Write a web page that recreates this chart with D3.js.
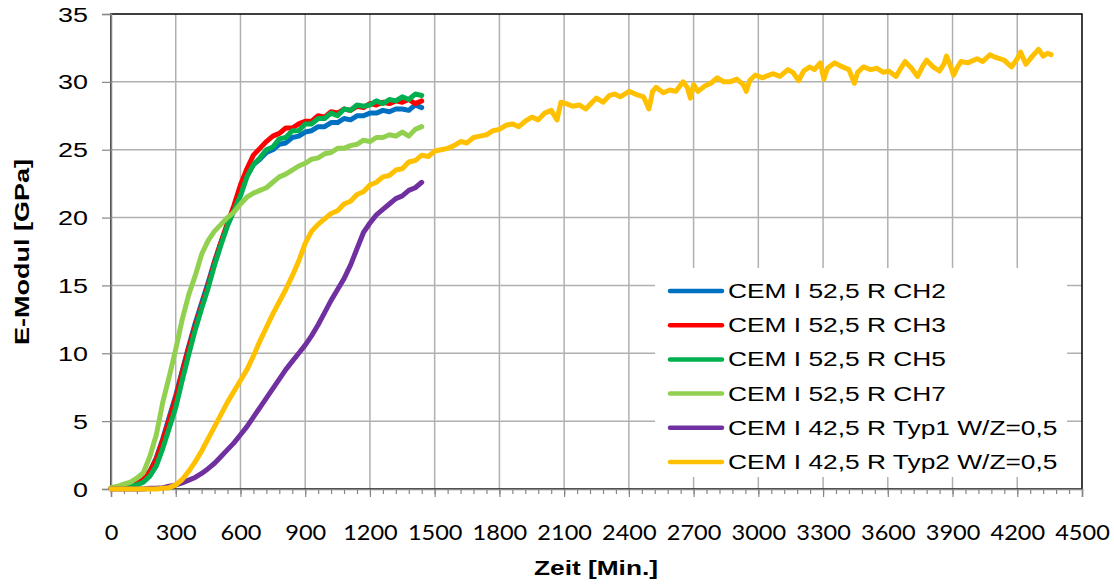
<!DOCTYPE html>
<html><head><meta charset="utf-8">
<script src="https://cdn.jsdelivr.net/npm/d3@7"></script>
<style>body{margin:0;background:#fff}svg{display:block}</style>
</head><body><svg id="c" width="1114" height="584"></svg>
<script>
const xTicks = [0,300,600,900,1200,1500,1800,2100,2400,2700,3000,3300,3600,3900,4200,4500];
const yTicks = [0,5,10,15,20,25,30,35];
const seriesNames = ["CEM I 52,5 R CH2","CEM I 52,5 R CH3","CEM I 52,5 R CH5","CEM I 52,5 R CH7","CEM I 42,5 R Typ1 W/Z=0,5","CEM I 42,5 R Typ2 W/Z=0,5"];
const seriesColors = ["#0070C0","#FF0000","#00B050","#92D050","#7030A0","#FFC000"];

const minutes = [0,30,60,90,120,150,180,210,240,270,300,330,360,390,420,450,480,510,540,570,600,630,660,690,720,750,780,810,840,870,900,930,960,990,1020,1050,1080,1110,1140,1170,1200,1230,1260,1290,1320,1350,1380,1410,1440];
const ch2 = [0.05,0.1,0.15,0.25,0.4,0.7,1.3,2.3,3.7,5.3,6.9,8.7,10.5,12.2,13.7,15.2,16.8,18.2,19.5,20.7,21.9,23.1,23.9,24.3,24.8,25.0,25.4,25.5,25.9,26.0,26.3,26.4,26.7,26.7,27.0,27.0,27.3,27.2,27.5,27.5,27.7,27.7,27.9,27.8,28.0,28.0,27.9,28.3,28.1];
const ch3 = [0.05,0.1,0.15,0.25,0.4,0.7,1.3,2.2,3.6,5.1,6.7,8.6,10.4,12.0,13.5,15.0,16.7,18.2,19.6,20.9,22.4,23.6,24.6,25.1,25.6,26.0,26.2,26.6,26.6,26.9,27.1,27.1,27.5,27.4,27.8,27.7,28.0,27.9,28.2,28.1,28.4,28.3,28.5,28.4,28.6,28.5,28.7,28.4,28.6];
const ch5 = [0.05,0.1,0.15,0.2,0.3,0.5,0.95,1.7,3.0,4.5,6.0,8.0,9.9,11.7,13.3,14.8,16.5,18.0,19.4,20.5,21.6,23.0,23.9,24.4,25.0,25.2,25.8,25.9,26.4,26.4,26.9,26.9,27.3,27.3,27.7,27.5,28.0,27.9,28.3,28.2,28.3,28.6,28.4,28.7,28.6,28.9,28.7,29.1,29.0];
const ch7 = [0.1,0.2,0.35,0.5,0.8,1.2,2.4,4.0,6.4,8.3,10.3,12.5,14.3,15.7,17.3,18.3,19.0,19.5,20.0,20.4,21.0,21.5,21.8,22.0,22.2,22.6,23.0,23.2,23.5,23.8,24.0,24.3,24.4,24.7,24.8,25.1,25.1,25.3,25.4,25.7,25.6,25.9,25.9,26.1,26.0,26.3,26.0,26.5,26.7];
const typ1 = [0,0,0,0,0,0,0.05,0.05,0.1,0.2,0.3,0.45,0.65,0.85,1.15,1.5,1.9,2.4,2.9,3.4,4.0,4.6,5.3,6.0,6.7,7.4,8.1,8.8,9.4,10.0,10.6,11.3,12.1,13.0,13.9,14.7,15.5,16.5,17.7,18.9,19.6,20.2,20.6,21.0,21.4,21.6,22.0,22.2,22.6];
const typ2Minutes = [0,30,60,90,120,150,180,210,240,270,300,330,360,390,420,450,480,510,540,570,600,630,660,690,720,750,780,810,840,870,900,930,960,990,1020,1050,1080,1110,1140,1170,1200,1230,1260,1290,1320,1350,1380,1410,1440,1470,1500,1530,1560,1590,1620,1650,1680,1710,1740,1770,1800,1830,1860,1890,1920,1950,1980,2010,2040,2067,2085,2110,2140,2170,2200,2230,2250,2280,2310,2334,2360,2401,2430,2468,2493,2510,2526,2560,2590,2618,2651,2670,2685,2700,2720,2752,2780,2810,2840,2869,2900,2930,2944,2960,2986,3020,3050,3070,3100,3137,3160,3187,3210,3237,3260,3287,3304,3320,3354,3390,3420,3445,3460,3487,3520,3550,3580,3604,3638,3660,3680,3710,3738,3760,3780,3810,3839,3860,3872,3890,3905,3920,3939,3970,4014,4040,4073,4100,4139,4173,4200,4215,4240,4270,4299,4320,4340,4357];
const typ2 = [0,0,0,0,0,0,0,0,0.05,0.1,0.3,0.7,1.3,2.0,2.8,3.7,4.6,5.5,6.4,7.2,8.0,8.8,9.8,10.9,11.9,12.9,13.8,14.7,15.7,16.8,18.1,19.0,19.5,19.9,20.3,20.5,21.0,21.2,21.7,21.9,22.4,22.6,23.0,23.1,23.5,23.6,24.1,24.2,24.6,24.5,24.9,25.0,25.1,25.3,25.6,25.5,25.9,26.0,26.1,26.4,26.5,26.8,26.9,26.7,27.1,27.4,27.2,27.7,27.9,27.2,28.5,28.4,28.2,28.3,28.0,28.5,28.8,28.5,29.0,29.1,28.9,29.3,29.1,28.9,28.0,29.3,29.6,29.2,29.4,29.3,30.0,29.6,28.8,29.8,29.3,29.7,29.9,30.3,30.0,30.0,30.2,29.8,29.3,30.1,30.5,30.3,30.5,30.6,30.4,30.9,30.7,30.1,30.8,31.1,30.9,31.4,30.2,31.0,31.4,31.1,30.9,29.9,30.7,31.1,30.9,31.0,30.7,30.8,30.4,31.0,31.5,31.0,30.4,31.1,31.6,31.1,30.8,31.3,31.9,31.2,30.5,31.0,31.5,31.4,31.7,31.5,32.0,31.8,31.6,31.1,31.7,32.2,31.3,31.9,32.4,31.9,32.1,32.0];

const seriesX = [minutes,minutes,minutes,minutes,minutes,typ2Minutes];
const seriesY = [ch2,ch3,ch5,ch7,typ1,typ2];

const svg = d3.select("#c");
const L=111,R=1082,T=14,B=489;
const x = d3.scaleLinear().domain([0,4500]).range([L,R]);
const y = d3.scaleLinear().domain([0,35]).range([B,T]);

function stretch(sel, f){ sel.each(function(){ const w=this.getComputedTextLength(); d3.select(this).attr("textLength", w*f).attr("lengthAdjust","spacingAndGlyphs"); }); }

// grid
svg.append("g").selectAll("line").data(xTicks.slice(1,-1)).join("line")
  .attr("x1",d=>x(d)).attr("x2",d=>x(d)).attr("y1",T).attr("y2",B)
  .attr("stroke","#b0b0b0").attr("stroke-width",1.5);
svg.append("g").selectAll("line").data(yTicks.slice(1,-1)).join("line")
  .attr("x1",L).attr("x2",R).attr("y1",d=>y(d)).attr("y2",d=>y(d))
  .attr("stroke","#b0b0b0").attr("stroke-width",1.5);
svg.append("rect").attr("x",L).attr("y",T).attr("width",R-L).attr("height",B-T)
  .attr("fill","none").attr("stroke","#000").attr("stroke-width",1.5);

// axes
const xAxis = svg.append("g").attr("transform",`translate(0,${B})`)
  .call(d3.axisBottom(x).tickValues(d3.range(0,4501,60)).tickSize(5).tickFormat(""));
xAxis.select(".domain").remove();
xAxis.selectAll("line").attr("stroke","#868686").attr("stroke-width",1.2);
const xMaj = svg.append("g").attr("transform",`translate(0,${B})`)
  .call(d3.axisBottom(x).tickValues(xTicks).tickSize(8).tickPadding(12).tickFormat(d3.format("d")));
xMaj.select(".domain").attr("stroke","#868686").attr("stroke-width",1.5);
xMaj.selectAll("line").attr("stroke","#868686").attr("stroke-width",1.2);
xMaj.selectAll("text").attr("font-family","Lato, 'Open Sans', sans-serif").attr("font-size",21).attr("fill","#000")
  .attr("dy",null).attr("y",51).call(stretch,1.12);

const yAxis = svg.append("g").attr("transform",`translate(${L},0)`)
  .call(d3.axisLeft(y).tickValues(yTicks).tickSize(9).tickPadding(14));
yAxis.select(".domain").attr("stroke","#868686").attr("stroke-width",1.5);
yAxis.selectAll("line").attr("stroke","#868686").attr("stroke-width",1.2);
yAxis.selectAll("text").attr("font-family","'Liberation Sans', Arial, sans-serif").attr("font-size",19.5).attr("fill","#000")
  .attr("dy","0.36em").call(stretch,1.38);

// titles
svg.append("text").attr("transform","translate(29,252) rotate(-90)").attr("text-anchor","middle")
  .attr("font-family","'Liberation Sans', Arial, sans-serif").attr("font-weight","bold").attr("font-size",21)
  .attr("textLength",186).attr("lengthAdjust","spacingAndGlyphs").text("E-Modul [GPa]");
svg.append("text").attr("x",596).attr("y",575).attr("text-anchor","middle")
  .attr("font-family","'Liberation Sans', Arial, sans-serif").attr("font-weight","bold").attr("font-size",21)
  .attr("textLength",124).attr("lengthAdjust","spacingAndGlyphs").text("Zeit [Min.]");

// series
const line = d3.line().x(d=>x(d[0])).y(d=>y(d[1]));
const plot = svg.append("g");
seriesNames.forEach((n,i)=>{
  const pts = seriesX[i].map((t,j)=>[t,seriesY[i][j]]);
  plot.append("path").datum(pts).attr("d",line).attr("fill","none")
    .attr("stroke",seriesColors[i]).attr("stroke-width",5)
    .attr("stroke-linejoin","round").attr("stroke-linecap","round");
});

// legend
const lg = svg.append("g");
lg.append("rect").attr("x",655).attr("y",268).attr("width",412).attr("height",209).attr("fill","#fff");
seriesNames.forEach((n,i)=>{
  const cy = 291 + i*34.2;
  lg.append("line").attr("x1",670).attr("x2",722).attr("y1",cy).attr("y2",cy)
    .attr("stroke",seriesColors[i]).attr("stroke-width",4.5).attr("stroke-linecap","round");
  lg.append("text").attr("x",728).attr("y",cy+7).attr("font-family","'Liberation Sans', Arial, sans-serif")
    .attr("font-size",19.5).attr("fill","#000").text(n).call(stretch,1.35);
});
</script></body></html>
